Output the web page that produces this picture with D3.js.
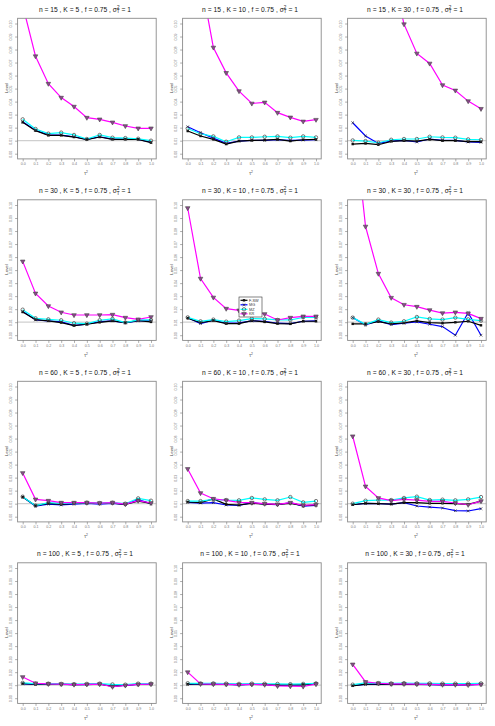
<!DOCTYPE html>
<html><head><meta charset="utf-8">
<script src="https://cdn.jsdelivr.net/npm/d3@7"></script>
<style>body{margin:0;background:#fff}svg{display:block}</style>
</head><body>
<script>
const tau2 = [0.0,0.1,0.2,0.3,0.4,0.5,0.6,0.7,0.8,0.9,1.0];
const nVals = [15, 30, 60, 100];
const kVals = [5, 10, 30];
const methods = ["F-SW", "MG", "MZ", "KR"];
const yTicks = [0.00,0.01,0.02,0.03,0.04,0.05,0.06,0.07,0.08,0.09,0.10];
const nominal = 0.01;

// rows: n=15 K=5,10,30 ; n=30 ... ; n=60 ... ; n=100 ...
const fsw = [
 [0.0241,0.0177,0.0141,0.0141,0.0128,0.0108,0.0128,0.0110,0.0110,0.0110,0.0085],
 [0.0174,0.0136,0.0110,0.0074,0.0097,0.0102,0.0105,0.0110,0.0097,0.0107,0.0110],
 [0.0074,0.0079,0.0069,0.0095,0.0100,0.0097,0.0110,0.0100,0.0100,0.0092,0.0092],
 [0.0178,0.0120,0.0110,0.0097,0.0074,0.0084,0.0099,0.0110,0.0097,0.0112,0.0102],
 [0.0130,0.0097,0.0112,0.0089,0.0089,0.0112,0.0102,0.0089,0.0087,0.0107,0.0107],
 [0.0087,0.0087,0.0104,0.0087,0.0094,0.0110,0.0097,0.0092,0.0099,0.0107,0.0076],
 [0.0151,0.0085,0.0103,0.0095,0.0103,0.0105,0.0103,0.0105,0.0095,0.0120,0.0103],
 [0.0113,0.0108,0.0136,0.0095,0.0090,0.0103,0.0097,0.0095,0.0103,0.0085,0.0090],
 [0.0092,0.0103,0.0100,0.0097,0.0108,0.0108,0.0103,0.0103,0.0100,0.0095,0.0120],
 [0.0112,0.0108,0.0110,0.0108,0.0105,0.0106,0.0110,0.0090,0.0100,0.0108,0.0110],
 [0.0108,0.0112,0.0110,0.0108,0.0104,0.0108,0.0106,0.0100,0.0102,0.0105,0.0112],
 [0.0095,0.0108,0.0110,0.0108,0.0110,0.0108,0.0106,0.0104,0.0106,0.0104,0.0108]
];
const mg = [
 [0.0245,0.0180,0.0145,0.0143,0.0130,0.0110,0.0130,0.0112,0.0112,0.0110,0.0088],
 [0.0207,0.0161,0.0120,0.0079,0.0097,0.0102,0.0102,0.0107,0.0102,0.0105,0.0107],
 [0.0238,0.0136,0.0079,0.0097,0.0102,0.0090,0.0113,0.0102,0.0102,0.0090,0.0087],
 [0.0183,0.0117,0.0110,0.0102,0.0076,0.0084,0.0104,0.0110,0.0094,0.0110,0.0110],
 [0.0135,0.0089,0.0115,0.0092,0.0094,0.0110,0.0107,0.0092,0.0089,0.0107,0.0110],
 [0.0135,0.0079,0.0110,0.0081,0.0092,0.0102,0.0084,0.0066,0.0000,0.0173,0.0000],
 [0.0151,0.0082,0.0097,0.0090,0.0097,0.0103,0.0097,0.0103,0.0095,0.0131,0.0100],
 [0.0110,0.0105,0.0108,0.0090,0.0087,0.0108,0.0097,0.0092,0.0108,0.0082,0.0087],
 [0.0092,0.0103,0.0100,0.0097,0.0108,0.0082,0.0074,0.0067,0.0046,0.0044,0.0062],
 [0.0110,0.0106,0.0108,0.0106,0.0104,0.0104,0.0108,0.0092,0.0098,0.0106,0.0108],
 [0.0106,0.0110,0.0108,0.0106,0.0102,0.0106,0.0104,0.0098,0.0100,0.0103,0.0110],
 [0.0096,0.0106,0.0108,0.0106,0.0108,0.0106,0.0104,0.0102,0.0104,0.0102,0.0106]
];
const mz = [
 [0.0264,0.0190,0.0154,0.0162,0.0144,0.0113,0.0144,0.0123,0.0120,0.0115,0.0100],
 [0.0194,0.0153,0.0133,0.0092,0.0125,0.0125,0.0130,0.0133,0.0123,0.0133,0.0125],
 [0.0102,0.0097,0.0084,0.0107,0.0113,0.0113,0.0130,0.0125,0.0123,0.0110,0.0107],
 [0.0196,0.0130,0.0122,0.0115,0.0092,0.0089,0.0115,0.0125,0.0097,0.0117,0.0117],
 [0.0137,0.0107,0.0120,0.0104,0.0112,0.0127,0.0125,0.0117,0.0117,0.0137,0.0137],
 [0.0135,0.0084,0.0120,0.0097,0.0107,0.0140,0.0125,0.0120,0.0135,0.0122,0.0112],
 [0.0154,0.0085,0.0108,0.0103,0.0105,0.0108,0.0105,0.0108,0.0100,0.0141,0.0123],
 [0.0120,0.0120,0.0133,0.0128,0.0126,0.0144,0.0133,0.0126,0.0151,0.0110,0.0120],
 [0.0100,0.0123,0.0128,0.0128,0.0144,0.0154,0.0128,0.0131,0.0126,0.0133,0.0151],
 [0.0118,0.0112,0.0112,0.0110,0.0108,0.0110,0.0112,0.0106,0.0104,0.0112,0.0112],
 [0.0115,0.0114,0.0114,0.0112,0.0110,0.0112,0.0111,0.0110,0.0108,0.0110,0.0114],
 [0.0104,0.0118,0.0116,0.0114,0.0116,0.0114,0.0114,0.0112,0.0112,0.0112,0.0114]
];
const kr = [
 [0.1140,0.0749,0.0538,0.0431,0.0362,0.0277,0.0264,0.0241,0.0213,0.0195,0.0195],
 [0.1900,0.1350,0.0816,0.0621,0.0481,0.0386,0.0394,0.0315,0.0279,0.0248,0.0261],
 [0.2200,0.2000,0.1700,0.1420,0.0995,0.0770,0.0693,0.0527,0.0486,0.0404,0.0345],
 [0.0567,0.0321,0.0224,0.0176,0.0155,0.0155,0.0155,0.0158,0.0135,0.0122,0.0140],
 [0.0977,0.0435,0.0290,0.0204,0.0191,0.0173,0.0163,0.0117,0.0135,0.0145,0.0145],
 [0.1750,0.0835,0.0473,0.0288,0.0234,0.0219,0.0193,0.0170,0.0176,0.0168,0.0127],
 [0.0336,0.0133,0.0123,0.0108,0.0108,0.0108,0.0105,0.0108,0.0097,0.0123,0.0105],
 [0.0367,0.0182,0.0138,0.0126,0.0110,0.0108,0.0100,0.0095,0.0108,0.0087,0.0092],
 [0.0618,0.0233,0.0144,0.0123,0.0133,0.0128,0.0118,0.0118,0.0105,0.0092,0.0120],
 [0.0163,0.0115,0.0110,0.0108,0.0105,0.0106,0.0108,0.0088,0.0098,0.0106,0.0108],
 [0.0200,0.0110,0.0108,0.0106,0.0104,0.0106,0.0104,0.0094,0.0092,0.0090,0.0108],
 [0.0260,0.0125,0.0115,0.0110,0.0110,0.0108,0.0106,0.0104,0.0104,0.0102,0.0106]
];

const W = 495, H = 726, cw = 165, ch = 181.5;
const svg = d3.select("body").append("svg").attr("width", W).attr("height", H)
  .style("font-family", "'Liberation Sans', Arial, sans-serif");

const seriesDefs = [
  {name: "MG",   data: mg,  color: "#0000ff", mark: "x"},
  {name: "F-SW", data: fsw, color: "#000000", mark: "dot"},
  {name: "MZ",   data: mz,  color: "#00ffff", mark: "circle"},
  {name: "KR",   data: kr,  color: "#ff00ff", mark: "tri"}
];
const triSym = d3.symbol().type(d3.symbolTriangle).size(9);

function drawMark(g, type, x, y) {
  if (type === "dot") {
    g.append("rect").attr("x", x - 1.2).attr("y", y - 1.2).attr("width", 2.4).attr("height", 2.4).attr("fill", "#111");
  } else if (type === "circle") {
    g.append("circle").attr("cx", x).attr("cy", y).attr("r", 1.7).attr("fill", "none").attr("stroke", "#444").attr("stroke-width", 0.7);
  } else if (type === "tri") {
    g.append("path").attr("d", triSym()).attr("transform", `translate(${x},${y}) rotate(180)`)
      .attr("fill", "#8a4a8a").attr("stroke", "#444").attr("stroke-width", 0.6);
  } else if (type === "x") {
    g.append("path").attr("d", `M${x-1.3},${y-1.3}L${x+1.3},${y+1.3}M${x-1.3},${y+1.3}L${x+1.3},${y-1.3}`)
      .attr("stroke", "#223").attr("stroke-width", 0.7);
  }
}

nVals.forEach((n, r) => {
  kVals.forEach((K, c) => {
    const idx = r * 3 + c;
    const x0 = c * cw, y0 = r * ch;
    const x = d3.scaleLinear().domain([0, 1]).range([x0 + 22.7, x0 + 151]);
    const y = d3.scaleLinear().domain([0, 0.1]).range([y0 + 153.7, y0 + 23.5]);
    const bx0 = x0 + 17.6, bx1 = x0 + 156.2, by0 = y0 + 18.3, by1 = y0 + 158.9;
    const g = svg.append("g");

    const clipId = "clip" + idx;
    svg.append("clipPath").attr("id", clipId).append("rect")
      .attr("x", bx0).attr("y", by0).attr("width", bx1 - bx0).attr("height", by1 - by0);

    g.append("line").attr("x1", bx0).attr("x2", bx1).attr("y1", y(nominal)).attr("y2", y(nominal))
      .attr("stroke", "#cfcfcf").attr("stroke-width", 1.2);

    const pg = g.append("g").attr("clip-path", `url(#${clipId})`);
    const line = d3.line().x((d, i) => x(tau2[i])).y(d => y(d));
    seriesDefs.forEach(s => {
      pg.append("path").datum(s.data[idx]).attr("d", line)
        .attr("fill", "none").attr("stroke", s.color).attr("stroke-width", 1.2);
    });
    seriesDefs.forEach(s => {
      s.data[idx].forEach((v, i) => drawMark(pg, s.mark, x(tau2[i]), y(v)));
    });

    g.append("rect").attr("x", bx0).attr("y", by0).attr("width", bx1 - bx0).attr("height", by1 - by0)
      .attr("fill", "none").attr("stroke", "#8a8a8a").attr("stroke-width", 0.9);

    const xa = g.append("g").attr("transform", `translate(0,${by1})`)
      .call(d3.axisBottom(x).tickValues(tau2).tickFormat(d3.format(".1f")).tickSize(2.5).tickPadding(1.5));
    xa.select(".domain").remove();
    xa.selectAll("line").attr("stroke", "#777").attr("stroke-width", 0.6);
    xa.selectAll("text").attr("font-size", 3.6).attr("fill", "#777").attr("font-family", "'Liberation Sans', Arial, sans-serif");

    const ya = g.append("g").attr("transform", `translate(${bx0},0)`)
      .call(d3.axisLeft(y).tickValues(yTicks).tickFormat(d3.format(".2f")).tickSize(2.5).tickPadding(1.5));
    ya.select(".domain").remove();
    ya.selectAll("line").attr("stroke", "#777").attr("stroke-width", 0.6);
    ya.selectAll("text").attr("font-size", 3.6).attr("fill", "#777").attr("font-family", "'Liberation Sans', Arial, sans-serif")
      .attr("text-anchor", "middle").attr("x", 0).attr("dy", 0)
      .attr("transform", "translate(-5.5,0) rotate(-90)");

    const t = g.append("text").attr("x", x0 + 85).attr("y", y0 + 11.5).attr("text-anchor", "middle")
      .attr("font-size", 6.7).attr("fill", "#111");
    t.append("tspan").text(`n = ${n} , K = ${K} , f = 0.75 , σ`);
    t.append("tspan").attr("font-size", 4.6).attr("dy", -2.8).text("2");
    t.append("tspan").attr("font-size", 4.6).attr("dx", -2.6).attr("dy", 4.6).text("T");
    t.append("tspan").attr("dy", -1.8).text(" = 1");

    g.append("text").attr("transform", `translate(${x0 + 8},${y0 + 88}) rotate(-90)`).attr("text-anchor", "middle")
      .attr("font-size", 4.3).attr("fill", "#444").text("Level");
    const xl = g.append("text").attr("x", x0 + 86).attr("y", y0 + 175).attr("text-anchor", "middle")
      .attr("font-size", 4.5).attr("fill", "#444");
    xl.append("tspan").text("τ");
    xl.append("tspan").attr("font-size", 3.3).attr("dy", -1.8).text("2");
  });
});

const lx = cw + 74, ly = ch + 115.5;
const lg = svg.append("g");
lg.append("rect").attr("x", lx).attr("y", ly).attr("width", 23).attr("height", 20)
  .attr("fill", "#fff").attr("stroke", "#333").attr("stroke-width", 0.6);
const legOrder = [
  {name: methods[0], color: "#000000", mark: "dot"},
  {name: methods[1], color: "#0000ff", mark: "x"},
  {name: methods[2], color: "#00ffff", mark: "circle"},
  {name: methods[3], color: "#ff00ff", mark: "tri"}
];
legOrder.forEach((s, i) => {
  const yy = ly + 3.3 + i * 4.5;
  lg.append("line").attr("x1", lx + 1.5).attr("x2", lx + 8.5).attr("y1", yy).attr("y2", yy)
    .attr("stroke", s.color).attr("stroke-width", 1.2);
  drawMark(lg, s.mark, lx + 5, yy);
  lg.append("text").attr("x", lx + 10).attr("y", yy + 1.3).attr("font-size", 3.8).attr("fill", "#333").text(s.name);
});
</script>
</body></html>
